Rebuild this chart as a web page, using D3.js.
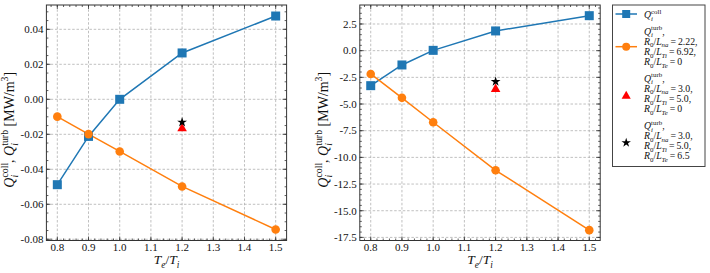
<!DOCTYPE html>
<html><head><meta charset="utf-8">
<script src="https://cdn.jsdelivr.net/npm/d3@7"></script>
<style>body{margin:0;background:#fff}svg{display:block}
svg text{font-family:"Liberation Serif","DejaVu Serif","Times New Roman",serif}</style>
</head><body>
<svg id="c" width="710" height="273"></svg>
<script>
// ---- data ----
const ratio = [0.8, 0.9, 1.0, 1.2, 1.5];
const collLeft = [-0.0488, -0.0212, 0.0, 0.0265, 0.0476];
const turbLeft = [-0.0099, -0.0199, -0.0298, -0.0498, -0.0744];
const triLeft = [{x: 1.2, y: -0.0162}];
const starLeft = [{x: 1.2, y: -0.0131}];
const collRight = [-3.28, -1.34, 0.03, 1.85, 3.28];
const turbRight = [-2.18, -4.42, -6.71, -11.21, -16.82];
const triRight = [{x: 1.2, y: -3.53}];
const starRight = [{x: 1.2, y: -2.9}];
const xTicks = [0.8, 0.9, 1.0, 1.1, 1.2, 1.3, 1.4, 1.5];
const yTicksLeft = [0.04, 0.02, 0.0, -0.02, -0.04, -0.06, -0.08];
const yTicksRight = [2.5, 0.0, -2.5, -5.0, -7.5, -10.0, -12.5, -15.0, -17.5];

const BLUE = "#1f77b4", ORANGE = "#ff7f0e";
const svg = d3.select("#c");

// rich text helper
function rich(textSel, parts, fs) {
  let cur = 0, prevNode = null;
  parts.forEach(p => {
    const small = p.sub || p.sup;
    const target = p.sub ? fs * 0.28 : (p.sup ? -fs * 0.42 : 0);
    const ts = textSel.append("tspan").text(p.t)
      .attr("font-size", small ? fs * 0.7 : fs)
      .attr("font-style", p.i ? "italic" : "normal")
      .attr("dy", target - cur);
    if (p.stack && prevNode) {
      ts.attr("dx", -prevNode.getComputedTextLength());
    }
    cur = target;
    prevNode = ts.node();
  });
}
const qColl = [{t: "Q", i: 1}, {t: "i", i: 1, sub: 1}, {t: "coll", sup: 1, stack: 1}];
const qTurb = [{t: "Q", i: 1}, {t: "i", i: 1, sub: 1}, {t: "turb", sup: 1, stack: 1}];

function panel(x0, x1, yDom, yTicks, yMinorStep, coll, turb, tri, star, fmt, ylabX) {
  const y0 = 5, y1 = 240.5;
  const x = d3.scaleLinear().domain([0.765, 1.535]).range([x0, x1]);
  const y = d3.scaleLinear().domain(yDom).range([y1, y0]);
  const g = svg.append("g");
  // grid
  g.selectAll(".gx").data(xTicks).join("line")
    .attr("x1", d => x(d)).attr("x2", d => x(d)).attr("y1", y0).attr("y2", y1)
    .attr("stroke", "#b0b0b0").attr("stroke-width", 0.8).attr("stroke-dasharray", "2.5,1.8");
  g.selectAll(".gy").data(yTicks).join("line")
    .attr("x1", x0).attr("x2", x1).attr("y1", d => y(d)).attr("y2", d => y(d))
    .attr("stroke", "#b0b0b0").attr("stroke-width", 0.8).attr("stroke-dasharray", "2.5,1.8");
  // minor ticks
  const xMinor = d3.range(0.76, 1.54, 0.02).filter(v => v >= 0.765 && v <= 1.535);
  const yMinor = d3.range(Math.ceil(yDom[0] / yMinorStep) * yMinorStep, yDom[1], yMinorStep);
  const tk = (arr, len, isX) => {
    arr.forEach(v => {
      if (isX) {
        g.append("line").attr("x1", x(v)).attr("x2", x(v)).attr("y1", y1).attr("y2", y1 - len).attr("stroke", "#333").attr("stroke-width", 0.8);
        g.append("line").attr("x1", x(v)).attr("x2", x(v)).attr("y1", y0).attr("y2", y0 + len).attr("stroke", "#333").attr("stroke-width", 0.8);
      } else {
        g.append("line").attr("x1", x0).attr("x2", x0 + len).attr("y1", y(v)).attr("y2", y(v)).attr("stroke", "#333").attr("stroke-width", 0.8);
        g.append("line").attr("x1", x1).attr("x2", x1 - len).attr("y1", y(v)).attr("y2", y(v)).attr("stroke", "#333").attr("stroke-width", 0.8);
      }
    });
  };
  tk(xMinor, 2, true); tk(yMinor, 2, false);
  tk(xTicks, 4, true); tk(yTicks, 4, false);
  // frame
  g.append("rect").attr("x", x0).attr("y", y0).attr("width", x1 - x0).attr("height", y1 - y0)
    .attr("fill", "none").attr("stroke", "#333").attr("stroke-width", 1);
  // tick labels
  g.selectAll(".xl").data(xTicks).join("text")
    .attr("x", d => x(d)).attr("y", 251).attr("text-anchor", "middle")
    .attr("font-size", 11).attr("fill", "#111").text(d => d.toFixed(1));
  g.selectAll(".yl").data(yTicks).join("text")
    .attr("x", x0 - 3).attr("y", d => y(d) + 3.8).attr("text-anchor", "end")
    .attr("font-size", 11).attr("fill", "#111").text(d => fmt(d));
  // axis labels
  const xl = g.append("text").attr("x", (x0 + x1) / 2).attr("y", 264).attr("text-anchor", "middle")
    .attr("fill", "#111");
  rich(xl, [{t: "T", i: 1}, {t: "e", i: 1, sub: 1}, {t: "/"}, {t: "T", i: 1}, {t: "i", i: 1, sub: 1}], 13.5);
  const yl = g.append("text").attr("transform", `translate(${ylabX},${(y0 + y1) / 2 + 7}) rotate(-90)`)
    .attr("text-anchor", "middle").attr("fill", "#111");
  rich(yl, [...qColl, {t: ", "}, ...qTurb, {t: " [MW/m"}, {t: "3", sup: 1}, {t: "]"}], 14);
  // lines
  const line = d3.line().x((d, i) => x(ratio[i])).y(d => y(d));
  g.append("path").datum(coll).attr("d", line).attr("fill", "none").attr("stroke", BLUE).attr("stroke-width", 1.5);
  g.append("path").datum(turb).attr("d", line).attr("fill", "none").attr("stroke", ORANGE).attr("stroke-width", 1.5);
  g.selectAll(".sq").data(coll).join("rect")
    .attr("x", (d, i) => x(ratio[i]) - 4.5).attr("y", d => y(d) - 4.5).attr("width", 9).attr("height", 9)
    .attr("fill", BLUE);
  g.selectAll(".ci").data(turb).join("circle")
    .attr("cx", (d, i) => x(ratio[i])).attr("cy", d => y(d)).attr("r", 4.3).attr("fill", ORANGE);
  const triSym = d3.symbol(d3.symbolTriangle, 40);
  g.selectAll(".tr").data(tri).join("path").attr("d", triSym)
    .attr("transform", d => `translate(${x(d.x)},${y(d.y) + 0.8})`).attr("fill", "red");
  const starSym = d3.symbol(d3.symbolStar, 30);
  g.selectAll(".st").data(star).join("path").attr("d", starSym)
    .attr("transform", d => `translate(${x(d.x)},${y(d.y)})`).attr("fill", "black");
}

panel(46.4, 286.6, [-0.0807, 0.0539], yTicksLeft, 0.005, collLeft, turbLeft, triLeft, starLeft,
  d => d.toFixed(2), 14);
panel(359.8, 600.2, [-17.79, 4.28], yTicksRight, 0.5, collRight, turbRight, triRight, starRight,
  d => d.toFixed(1), 328);

// legend
const lg = svg.append("g");
lg.append("rect").attr("x", 612.5).attr("y", 5).attr("width", 92.5).attr("height", 161.5)
  .attr("fill", "#fff").attr("stroke", "#444").attr("stroke-width", 1);
const LFS = 9.8;
const lt = (yy, parts) => {
  const t = lg.append("text").attr("x", 644).attr("y", yy).attr("fill", "#111");
  rich(t, parts, LFS);
};
const rl = (sub, val) => [{t: "R", i: 1}, {t: "0", sub: 1}, {t: "/"}, {t: "L", i: 1}, ...sub, {t: "\u2009=\u2009" + val}];
const sNa = [{t: "na", i: 1, sub: 1}], sTi = [{t: "Ti", i: 1, sub: 1}], sTe = [{t: "Te", i: 1, sub: 1}];
// entry 1
lg.append("line").attr("x1", 615.5).attr("x2", 637).attr("y1", 14).attr("y2", 14).attr("stroke", BLUE).attr("stroke-width", 1.5);
lg.append("rect").attr("x", 626.2 - 4).attr("y", 10).attr("width", 8).attr("height", 8).attr("fill", BLUE);
lt(18, qColl);
// entry 2
lg.append("line").attr("x1", 615.5).attr("x2", 637).attr("y1", 46.7).attr("y2", 46.7).attr("stroke", ORANGE).attr("stroke-width", 1.5);
lg.append("circle").attr("cx", 626.2).attr("cy", 46.7).attr("r", 4).attr("fill", ORANGE);
lt(34.5, [...qTurb, {t: ","}]);
lt(44.5, [...rl(sNa, "2.22,")]);
lt(54.8, [...rl(sTi, "6.92,")]);
lt(64.8, [...rl(sTe, "0")]);
// entry 3
lg.append("path").attr("d", d3.symbol(d3.symbolTriangle, 36)).attr("transform", "translate(626.2,96)").attr("fill", "red");
lt(81.5, [...qTurb, {t: ","}]);
lt(91.5, [...rl(sNa, "3.0,")]);
lt(101.8, [...rl(sTi, "5.0,")]);
lt(111.8, [...rl(sTe, "0")]);
// entry 4
lg.append("path").attr("d", d3.symbol(d3.symbolStar, 28)).attr("transform", "translate(626.2,142.7)").attr("fill", "black");
lt(128.8, [...qTurb, {t: ","}]);
lt(138.8, [...rl(sNa, "3.0,")]);
lt(149.2, [...rl(sTi, "5.0,")]);
lt(159.2, [...rl(sTe, "6.5")]);
</script>
</body></html>
